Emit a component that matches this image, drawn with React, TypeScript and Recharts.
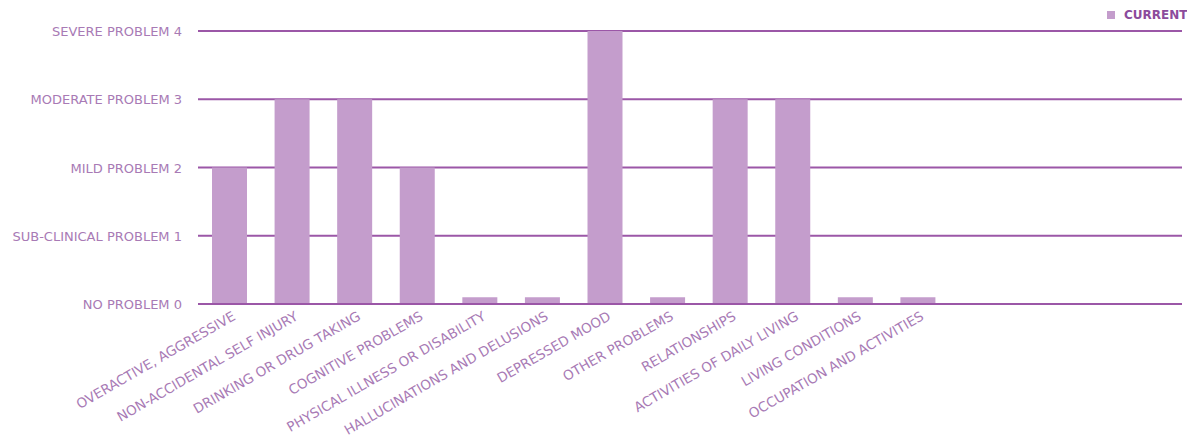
import { Bar, BarChart, CartesianGrid, XAxis, YAxis } from "recharts";

const categories = [
  "OVERACTIVE, AGGRESSIVE",
  "NON-ACCIDENTAL SELF INJURY",
  "DRINKING OR DRUG TAKING",
  "COGNITIVE PROBLEMS",
  "PHYSICAL ILLNESS OR DISABILITY",
  "HALLUCINATIONS AND DELUSIONS",
  "DEPRESSED MOOD",
  "OTHER PROBLEMS",
  "RELATIONSHIPS",
  "ACTIVITIES OF DAILY LIVING",
  "LIVING CONDITIONS",
  "OCCUPATION AND ACTIVITIES",
];

const current = [2, 3, 3, 2, 0.1, 0.1, 4, 0.1, 3, 3, 0.1, 0.1];

const yTicks = [0, 1, 2, 3, 4];
const yLabels = [
  "NO PROBLEM 0",
  "SUB-CLINICAL PROBLEM 1",
  "MILD PROBLEM 2",
  "MODERATE PROBLEM 3",
  "SEVERE PROBLEM 4",
];

const data = categories.map((name, i) => ({ name, current: current[i] }));

const FONT = "'DejaVu Sans', sans-serif";
const LABEL = "#a87ab5";
const LINE = "#9b57a7";
const BAR = "#c49dcc";

function XTick(props: any) {
  const { x, y, payload } = props;
  const ax = x + 7;
  const ay = y + 7;
  return (
    <text
      x={ax}
      y={ay}
      transform={`rotate(-30, ${ax}, ${ay})`}
      textAnchor="end"
      fontSize={13.5}
      fontFamily={FONT}
      fill={LABEL}
    >
      {payload.value}
    </text>
  );
}

function YTick(props: any) {
  const { x, y, payload } = props;
  return (
    <text
      x={x}
      y={y}
      dy={5}
      textAnchor="end"
      fontSize={13}
      fontFamily={FONT}
      fill={LABEL}
    >
      {yLabels[payload.value]}
    </text>
  );
}

export default function App() {
  return (
    <div
      style={{
        width: 1187,
        height: 439,
        boxSizing: "border-box",
        padding: "8px 0 0 8px",
        overflow: "hidden",
        position: "relative",
        background: "#fff",
      }}
    >
      <style>{"html,body{margin:0;overflow:hidden}"}</style>
      <BarChart
        width={1200}
        height={431}
        data={data}
        margin={{ top: 23, right: 26, bottom: 0, left: 0 }}
      >
        <CartesianGrid
          horizontal
          vertical={false}
          stroke={LINE}
          strokeWidth={2}
        />
        <XAxis
          dataKey="name"
          height={135}
          interval={0}
          padding={{ left: 0, right: 233 }}
          axisLine={{ stroke: LINE, strokeWidth: 2 }}
          tickLine={false}
          tick={<XTick />}
        />
        <YAxis
          width={190}
          domain={[0, 4]}
          ticks={yTicks}
          axisLine={false}
          tickLine={false}
          tickMargin={10}
          tick={<YTick />}
        />
        <Bar
          dataKey="current"
          fill={BAR}
          barSize={35}
          isAnimationActive={false}
        />
      </BarChart>
      <div
        style={{
          position: "absolute",
          top: 8,
          left: 1107,
          display: "flex",
          alignItems: "center",
          fontFamily: FONT,
          fontSize: 12,
          fontWeight: "bold",
          color: "#8c4b9c",
          whiteSpace: "nowrap",
        }}
      >
        <span
          style={{
            width: 8,
            height: 8,
            background: BAR,
            display: "inline-block",
            marginRight: 9,
          }}
        />
        CURRENT
      </div>
    </div>
  );
}
